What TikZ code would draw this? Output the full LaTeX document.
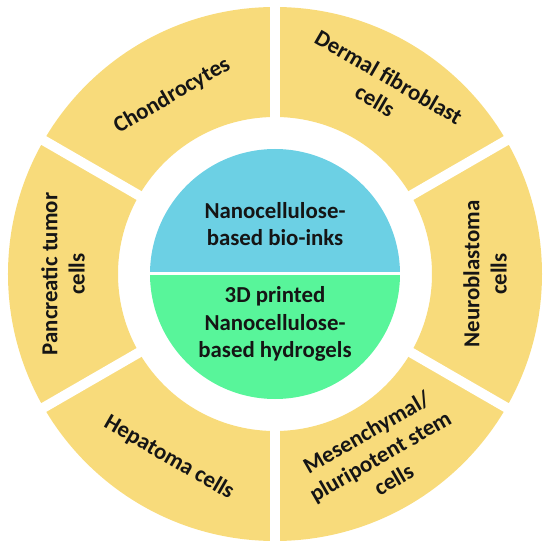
\documentclass[tikz,border=0pt]{standalone}
\usepackage{fontspec}
\setmainfont{Carlito}
\usepackage{xcolor}
\usepackage{tikz}
\usetikzlibrary{positioning}
\definecolor{ringyellow}{HTML}{F8DB7B}
\definecolor{inkblue}{HTML}{6CD0E4}
\definecolor{gelgreen}{HTML}{58F59A}
\definecolor{dark}{HTML}{151515}

\tikzset{
  celltext/.style={align=center, text=dark, font=\bfseries\fontsize{13}{15.5}\selectfont},
  coretext/.style={align=center, text=dark, font=\bfseries\fontsize{13}{15.5}\selectfont}
}

\begin{document}
\begin{tikzpicture}
    \useasboundingbox (-5.5,-5.46) rectangle (5.5,5.48);

    % outer ring of cell types
    \fill[ringyellow, even odd rule] (0,0) circle (5.34) (0,0) circle (3.14);
    \foreach \a in {30,90,...,330}
        \draw[white, line width=0.2cm] (\a:3) -- (\a:5.6);

    % core: bio-ink over hydrogel
    \fill[inkblue] (2.5,0) arc (0:180:2.5) -- cycle;
    \fill[gelgreen] (-2.5,0) arc (180:360:2.5) -- cycle;
    \draw[white, line width=0.06cm] (-2.6,0) -- (2.6,0);

    \node[coretext] (bioink) at (0,1.0) {Nanocellulose-\\based bio-inks};
    \node[coretext] (hydrogel) at (0,-1.0) {3D printed\\Nanocellulose-\\based hydrogels};

    \node[celltext, rotate=30] (chondro) at (120:4.12) {Chondrocytes};
    \node[celltext, rotate=-30] (dermal) at (60:4.28) {Dermal fibroblast\\cells};
    \node[celltext, rotate=90] (neuro) at (0:4.2) {Neuroblastoma\\cells};
    \node[celltext, rotate=30] (stem) at (-60:4.2) {Mesenchymal/\\pluripotent stem\\cells};
    \node[celltext, rotate=-30] (hepato) at (-120:4.24) {Hepatoma cells};
    \node[celltext, rotate=90] (pancreas) at (180:4.24) {Pancreatic tumor\\cells};
\end{tikzpicture}
\end{document}
